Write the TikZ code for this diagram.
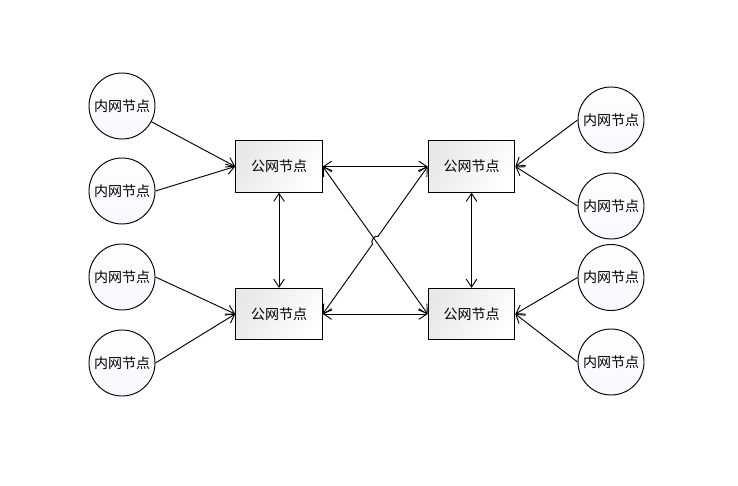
\documentclass[tikz,border=0pt]{standalone}
\usepackage{fontspec}
\newfontfamily\cjk{Noto Sans CJK SC}
\usepackage{tikz}
\usetikzlibrary{arrows.meta,shapes,calc}

\begin{document}
\begin{tikzpicture}[x=0.75pt, y=-0.75pt,
	>={Straight Barb[length=6pt,width=8pt]},
	link/.style={line width=0.7pt, draw=black},
	pubnode/.style={draw, line width=0.7pt, minimum width=65pt, minimum height=38.5pt,
		left color=black!9, right color=white, shading angle=60, font=\cjk\fontsize{10.5}{12}\selectfont},
	innode/.style={draw, circle, line width=0.7pt, minimum size=49.5pt, inner sep=0pt,
		top color=white, bottom color=blue!3, font=\cjk\fontsize{10.5}{12}\selectfont}]
	\useasboundingbox (0,0) rectangle (738,485);
	% public nodes
	\node [pubnode] (tl) at (279,166.5) {公网节点};
	\node [pubnode] (tr) at (471.5,166.5) {公网节点};
	\node [pubnode] (bl) at (279,314) {公网节点};
	\node [pubnode] (br) at (471.5,314) {公网节点};
	% inner nodes
	\node [innode] (l1) at (122,106) {内网节点};
	\node [innode] (l2) at (122,191) {内网节点};
	\node [innode] (l3) at (122,277) {内网节点};
	\node [innode] (l4) at (122,363) {内网节点};
	\node [innode] (r1) at (611,120) {内网节点};
	\node [innode] (r2) at (611,206) {内网节点};
	\node [innode] (r3) at (611,277.5) {内网节点};
	\node [innode] (r4) at (611,362) {内网节点};
	% inner to public
	\draw [link, ->] (l1) -- (tl.west);
	\draw [link, ->] (l2.east) -- (tl.west);
	\draw [link, ->] (l3.east) -- (bl.west);
	\draw [link, ->] (l4.east) -- (bl.west);
	\draw [link, ->] (r1.west) -- (tr.east);
	\draw [link, ->] (r2.west) -- (tr.east);
	\draw [link, ->] (r3.west) -- (br.east);
	\draw [link, ->] (r4.west) -- (br.east);
	% public to public
	\draw [link, <->] (tl.east) -- (tr.west);
	\draw [link, <->] (bl.east) -- (br.west);
	\draw [link, <->] (tl.south) -- (bl.north);
	\draw [link, <->] (tr.south) -- (br.north);
	\draw [link, <->] (tl.east) -- (br.west);
	% crossing with a small hop
	\coordinate (x) at ($(bl.east)!0.5!(tr.west)$);
	\coordinate (h1) at ($(x)!3.5pt!(bl.east)$);
	\coordinate (h2) at ($(x)!3.5pt!(tr.west)$);
	\draw [link, <->] (bl.east) -- (h1) to [bend left=90] (h2) -- (tr.west);
\end{tikzpicture}
\end{document}
